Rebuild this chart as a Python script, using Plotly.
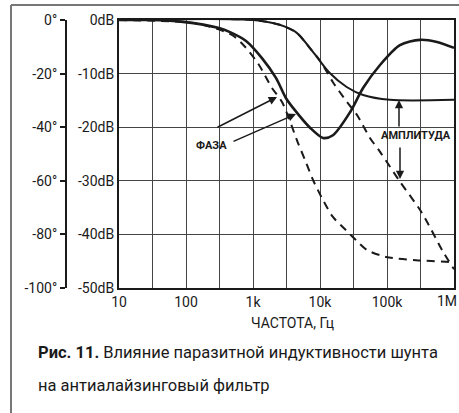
import plotly.graph_objects as go

# ---- data ----
freq_amp_solid = [10, 1000, 2500, 4500, 7900, 14000, 25000, 44000, 110000, 1000000]
amp_solid_db = [0, 0, -0.9, -2.4, -6.0, -9.9, -12.5, -14.0, -14.9, -14.9]

freq_amp_dash = [10, 1000, 2500, 4500, 7000, 10000, 15600, 25300, 35600, 55700, 78700,
                 151000, 333000, 662000, 1000000]
amp_dash_db = [0, 0, -0.9, -2.4, -5.2, -7.6, -11.6, -15.3, -17.7, -22.0, -24.6,
               -29.9, -36.0, -42.9, -46.5]

freq_ph_solid = [10, 29, 90, 311, 454, 787, 1360, 2200, 3110, 3960, 7100, 11100, 15600,
                 28100, 43900, 78700, 156000, 311000, 557000, 1000000]
ph_solid_deg = [0, 0, -0.7, -3.0, -4.5, -7.8, -14.2, -21.6, -29.2, -32.8, -40.2, -44.0,
                -43.0, -34.4, -25.4, -16.8, -9.4, -7.4, -8.2, -10.4]

freq_ph_dash = [10, 90, 162, 486, 787, 1230, 1920, 2710, 4700, 5970, 7870, 11100, 15600,
                24400, 34400, 50200, 96600, 271000, 871000, 1000000]
ph_dash_deg = [0, -0.7, -1.5, -5.6, -10.4, -16.8, -25.4, -30.6, -45.9, -52.2, -59.7,
               -67.2, -73.5, -78.4, -82.1, -85.8, -88.4, -89.6, -90.3, -90.5]

x_tickvals = [10, 31.62, 100, 316.2, 1000, 3162, 10000, 31620, 100000, 316200, 1000000]
x_ticktext = ["10", "", "100", "", "1k", "", "10k", "", "100k", "", ""]
x_last_label = "1M"   # drawn right-aligned so it stays inside the picture
db_tickvals = [0, -10, -20, -30, -40, -50]
db_ticktext = ["0dB", "-10dB", "-20dB", "-30dB", "-40dB", "-50dB"]
deg_tickvals = [0, -20, -40, -60, -80, -100]
deg_ticktext = ["0°", "-20°", "-40°", "-60°", "-80°", "-100°"]

DB_RANGE = [-50, 0]
DEG_RANGE = [-100, 0]
DB_PER_DEG = DB_RANGE[0] / DEG_RANGE[0]   # the two left axes share one vertical scale

W, H = 459, 413
ML, MR, MT, MB = 20, 5, 20, 125
PW = W - ML - MR
PH = H - MT - MB
PX0 = 119  # left edge of the plot frame in pixels


def xp(px):
    return (px - ML) / PW


def yp(py):
    return (H - MB - py) / PH


FONT = "Roboto"
INK = "#1a1a1a"
GRID = "#444"

fig = go.Figure()
fig.add_trace(go.Scatter(x=freq_amp_dash, y=amp_dash_db, mode="lines",
                         line=dict(color=INK, width=2, dash="8px,6px", shape="spline", smoothing=0.8),
                         hoverinfo="skip", showlegend=False))
fig.add_trace(go.Scatter(x=freq_amp_solid, y=amp_solid_db, mode="lines",
                         line=dict(color=INK, width=2, shape="spline", smoothing=0.8),
                         hoverinfo="skip", showlegend=False))
fig.add_trace(go.Scatter(x=freq_ph_dash, y=[d * DB_PER_DEG for d in ph_dash_deg], mode="lines",
                         line=dict(color=INK, width=2, dash="8px,6px", shape="spline", smoothing=0.8),
                         hoverinfo="skip", showlegend=False))
fig.add_trace(go.Scatter(x=freq_ph_solid, y=[d * DB_PER_DEG for d in ph_solid_deg], mode="lines",
                         line=dict(color=INK, width=2.6, shape="spline", smoothing=0.8),
                         hoverinfo="skip", showlegend=False))
# holder for the separate phase scale
fig.add_trace(go.Scatter(x=[None], y=[None], xaxis="x2", yaxis="y2", mode="lines",
                         hoverinfo="skip", showlegend=False))

fig.update_layout(
    width=W, height=H,
    margin=dict(l=ML, r=MR, t=MT, b=MB, autoexpand=False),
    paper_bgcolor="white", plot_bgcolor="white",
    font=dict(family=FONT, size=14, color=INK),
    xaxis=dict(type="log", range=[1, 6], domain=[xp(PX0), 1], automargin=False,
               tickvals=x_tickvals, ticktext=x_ticktext,
               showgrid=True, gridcolor=GRID, gridwidth=1,
               showline=True, linecolor=INK, linewidth=2, mirror=True,
               zeroline=False, ticklabeloverflow="allow"),
    yaxis=dict(range=DB_RANGE, tickvals=db_tickvals, ticktext=db_ticktext, automargin=False,
               showgrid=True, gridcolor=GRID, gridwidth=1,
               showline=True, linecolor=INK, linewidth=2, mirror=True,
               zeroline=False),
    xaxis2=dict(domain=[xp(67), xp(67) + 0.01], range=[0, 1], visible=False, anchor="y2",
                automargin=False),
    yaxis2=dict(range=DEG_RANGE, anchor="x2", side="left", automargin=False,
                tickvals=deg_tickvals, ticktext=deg_ticktext,
                showgrid=False, zeroline=False,
                showline=True, linecolor=INK, linewidth=2,
                ticks="outside", ticklen=5, tickwidth=2, tickcolor=INK),
)

annots = [
    dict(x=xp(459), y=yp(301), xanchor="right", text=x_last_label, font=dict(size=14)),
    dict(x=xp(292), y=yp(323), text="ЧАСТОТА, Гц", font=dict(size=14)),
    dict(x=xp(211), y=yp(145), text="<b>ФАЗА</b>", font=dict(size=11)),
    dict(x=xp(416), y=yp(135), text="<b>АМПЛИТУДА</b>", font=dict(size=11)),
    dict(x=xp(36), y=yp(352), xanchor="left",
         text="<b>Рис. 11.</b> Влияние паразитной индуктивности шунта", font=dict(size=16.5)),
    dict(x=xp(36), y=yp(385), xanchor="left",
         text="на антиалайзинговый фильтр", font=dict(size=16.5)),
]
for a in annots:
    a.setdefault("xanchor", "center")
    fig.add_annotation(xref="paper", yref="paper", yanchor="middle", showarrow=False, **a)

arrows = [
    ((277, 97), (216, 128)),
    ((296, 114), (232, 142)),
    ((399, 100), (399, 128)),
    ((400, 179), (400, 146)),
]
for (tx, ty), (sx, sy) in arrows:
    fig.add_annotation(xref="paper", yref="paper", x=xp(tx), y=yp(ty), text="",
                       showarrow=True, arrowhead=2, arrowsize=1.1, arrowwidth=1.5,
                       arrowcolor=INK, ax=sx - tx, ay=sy - ty, standoff=0)

# outer frame (top and left)
fig.add_shape(type="line", xref="paper", yref="paper", x0=xp(11), y0=yp(5), x1=xp(470), y1=yp(5),
              line=dict(color="#777", width=2))
fig.add_shape(type="line", xref="paper", yref="paper", x0=xp(11), y0=yp(5), x1=xp(11), y1=yp(420),
              line=dict(color="#777", width=2))

fig.write_html("out.html")
